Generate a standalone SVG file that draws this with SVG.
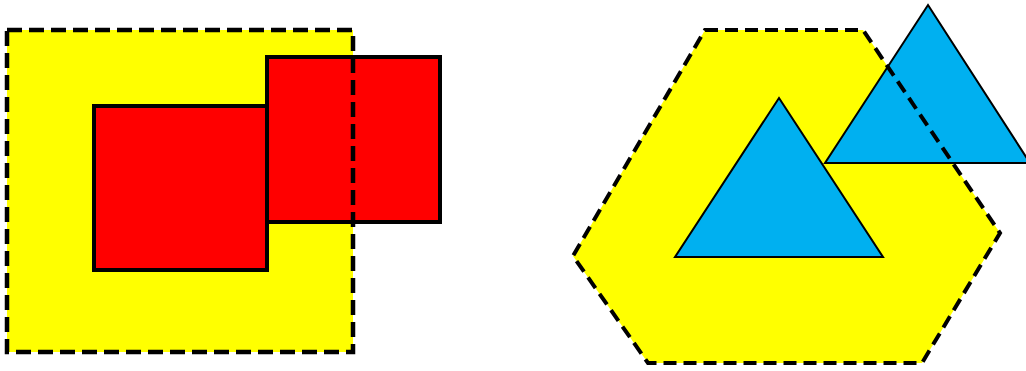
<svg xmlns="http://www.w3.org/2000/svg" width="1026" height="371" viewBox="0 0 1026 371">
<style>
.yfill{fill:#FFFF00;stroke:none}
.dash{fill:none;stroke:#000;stroke-width:4.5;stroke-dasharray:15 7;stroke-linejoin:miter}
.red{fill:#FF0000;stroke:#000;stroke-width:4}
.blue{fill:#00B0F0;stroke:#000;stroke-width:2;stroke-linejoin:miter}
</style>
<rect width="1026" height="371" fill="#fff"/>
<g id="square">
<rect class="yfill" x="7" y="30" width="346" height="322"/>
</g>
<g id="rect1"><rect class="red" x="94" y="106" width="173" height="164"/></g>
<g id="rect2"><rect class="red" x="267" y="57" width="173" height="165"/></g>
<g id="square-outline"><rect class="dash" x="7" y="30" width="346" height="322"/></g>
<g id="hexagon">
<polygon class="yfill" points="705,30 863,30 1000,233 922,363 648,363 573,256"/>
</g>
<g id="tri1"><polygon class="blue" points="779,98 883,257 675,257"/></g>
<g id="tri2"><polygon class="blue" points="928,5 1030,163 825,163"/></g>
<g id="hexagon-outline"><polygon class="dash" points="705,30 863,30 1000,233 922,363 648,363 573,256" style="stroke-width:4;stroke-dasharray:13 7"/></g>
<g id="connectors"></g>
</svg>
